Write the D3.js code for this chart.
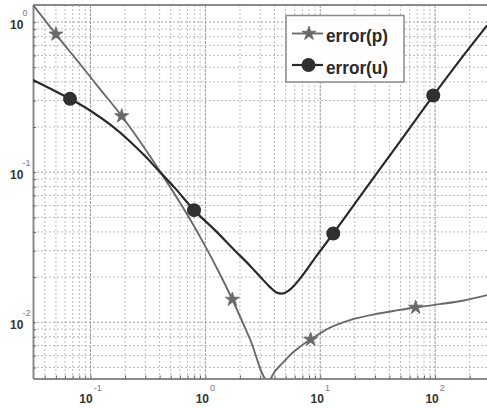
<!DOCTYPE html>
<html><head><meta charset="utf-8">
<script src="https://cdn.jsdelivr.net/npm/d3@7"></script>
<style>body{margin:0;background:#fff}</style>
</head><body>
<svg id="chart" width="487" height="409"></svg>
<script>
// ---- data ----
const seriesNames = ["error(p)", "error(u)"];
const pX = [0.0316, 0.0501, 0.0811, 0.1211, 0.187, 0.270, 0.387, 0.602, 0.898, 1.341, 1.717, 2.447, 3.511, 4.038, 4.741, 5.678, 6.665, 8.259, 12.16, 18.15, 28.78, 44.75, 67.72, 110.2, 181.9, 283];
const pY = [1.30, 0.829, 0.5256, 0.358, 0.2366, 0.1600, 0.1060, 0.0625, 0.0372, 0.02089, 0.01418, 0.00771, 0.00405, 0.00472, 0.00538, 0.00622, 0.00688, 0.00768, 0.00920, 0.01033, 0.01124, 0.01195, 0.01255, 0.01320, 0.01403, 0.01516];
const uX = [0.0316, 0.04446, 0.06637, 0.0991, 0.1480, 0.2209, 0.2984, 0.3872, 0.5444, 0.7966, 1.213, 1.811, 2.447, 3.112, 3.654, 4.120, 4.647, 5.240, 5.910, 6.665, 9.183, 12.99, 24.52, 49.45, 96.36, 164.5, 283];
const uY = [0.4111, 0.3607, 0.3081, 0.2577, 0.2079, 0.1602, 0.1280, 0.1033, 0.07830, 0.05587, 0.04111, 0.03000, 0.02383, 0.01953, 0.01714, 0.01587, 0.01551, 0.01612, 0.01753, 0.01953, 0.02736, 0.03907, 0.07653, 0.1599, 0.3240, 0.5587, 0.9489];
const pMarkX = [0.0501, 0.187, 1.717, 8.259, 67.72];
const pMarkY = [0.829, 0.2366, 0.01418, 0.00768, 0.01255];
const uMarkX = [0.06637, 0.7966, 12.99, 96.36];
const uMarkY = [0.3081, 0.05587, 0.03907, 0.3240];
const xTickValues = [0.1, 1, 10, 100];
const xTickExp = ["-1", "0", "1", "2"];
const yTickValues = [1, 0.1, 0.01];
const yTickExp = ["0", "-1", "-2"];
const xDomain = [0.0316, 283];
const yDomain = [0.00422, 1.30];

// ---- layout ----
const L = 33, R = 487, T = 5, B = 378.5;
const svg = d3.select("#chart");
const x = d3.scaleLog().domain(xDomain).range([L, R]);
const y = d3.scaleLog().domain(yDomain).range([B, T]);
const xt = x.ticks().filter(t => x(t) >= L && x(t) <= R);
const yt = y.ticks().filter(t => y(t) >= T && y(t) <= B);
const isMaj = (arr, t) => arr.some(v => Math.abs(Math.log10(v) - Math.log10(t)) < 1e-6);

svg.append("defs").append("clipPath").attr("id", "clip")
  .append("rect").attr("x", L).attr("y", T).attr("width", R - L).attr("height", B - T);

// grid
const grid = svg.append("g");
grid.selectAll(".gx").data(xt).enter().append("line")
  .attr("x1", d => x(d)).attr("x2", d => x(d)).attr("y1", T).attr("y2", B)
  .attr("stroke", d => isMaj(xTickValues, d) ? "#9a9a9a" : "#bdbdbd")
  .attr("stroke-width", 1).attr("stroke-dasharray", d => isMaj(xTickValues, d) ? "3,1" : "2,2");
grid.selectAll(".gy").data(yt).enter().append("line")
  .attr("y1", d => y(d)).attr("y2", d => y(d)).attr("x1", L).attr("x2", R)
  .attr("stroke", d => isMaj(yTickValues, d) ? "#a0a0a0" : "#bdbdbd")
  .attr("stroke-width", 1).attr("stroke-dasharray", "2,2");

// axes
const ax = svg.append("g").attr("transform", `translate(0,${B})`)
  .call(d3.axisBottom(x).tickValues(xt).tickFormat("").tickSizeInner(-3).tickSizeOuter(0));
const ay = svg.append("g").attr("transform", `translate(${L},0)`)
  .call(d3.axisLeft(y).tickValues(yt).tickFormat("").tickSizeInner(-3).tickSizeOuter(0));
[ax, ay].forEach(g => {
  g.select(".domain").attr("stroke", "#8a8a8a").attr("stroke-width", 2);
  g.selectAll(".tick line").attr("stroke", "#666").attr("stroke-width", 1);
});
svg.append("line").attr("x1", L).attr("x2", R).attr("y1", T).attr("y2", T)
  .attr("stroke", "#8a8a8a").attr("stroke-width", 2);

// tick labels
const fam = "'Liberation Sans Narrow','Liberation Sans',Arial,sans-serif";
xTickValues.forEach((v, i) => {
  const t = svg.append("text").attr("x", x(v)).attr("y", 402.5)
    .attr("text-anchor", "middle").attr("font-family", fam);
  t.append("tspan").text("10").attr("font-size", 12).attr("font-weight", "bold").attr("fill", "#333");
  t.append("tspan").text(xTickExp[i]).attr("font-size", 9).attr("dx", 1).attr("dy", -11.5).attr("fill", "#777");
});
yTickValues.forEach((v, i) => {
  svg.append("text").attr("x", 10).attr("y", y(v) + 6.8).attr("font-family", fam)
    .attr("font-size", 12).attr("font-weight", "bold").attr("fill", "#333").text("10");
  svg.append("text").attr("x", 22.5).attr("y", y(v) - 6.5).attr("font-family", fam)
    .attr("font-size", 9).attr("fill", "#777").text(yTickExp[i]);
});

// curves
const line = d3.line().x(d => x(d[0])).y(d => y(d[1])).curve(d3.curveMonotoneX);
const plot = svg.append("g").attr("clip-path", "url(#clip)");
const pColor = "#6a6a6a", uColor = "#2a2a2a";
plot.append("path").attr("d", line(pX.map((v, i) => [v, pY[i]])))
  .attr("fill", "none").attr("stroke", pColor).attr("stroke-width", 1.9);
plot.append("path").attr("d", line(uX.map((v, i) => [v, uY[i]])))
  .attr("fill", "none").attr("stroke", uColor).attr("stroke-width", 2.2);

const star = d3.symbol().type(d3.symbolStar).size(62);
plot.selectAll(".ps").data(pMarkX).enter().append("path")
  .attr("d", star).attr("transform", (d, i) => `translate(${x(d)},${y(pMarkY[i])})`)
  .attr("fill", pColor).attr("stroke", pColor).attr("stroke-width", 0.8);
plot.selectAll(".uc").data(uMarkX).enter().append("circle")
  .attr("cx", d => x(d)).attr("cy", (d, i) => y(uMarkY[i])).attr("r", 7)
  .attr("fill", "#303030");

// legend
const lg = svg.append("g");
lg.append("rect").attr("x", 286).attr("y", 15.5).attr("width", 118).attr("height", 66.5)
  .attr("fill", "#fff").attr("stroke", "#8a8a8a").attr("stroke-width", 1.5);
lg.append("line").attr("x1", 292).attr("x2", 323).attr("y1", 33.5).attr("y2", 33.5)
  .attr("stroke", pColor).attr("stroke-width", 1.9);
lg.append("path").attr("d", star).attr("transform", "translate(309,33.5)")
  .attr("fill", pColor).attr("stroke", pColor).attr("stroke-width", 0.8);
lg.append("line").attr("x1", 292).attr("x2", 323).attr("y1", 65).attr("y2", 65)
  .attr("stroke", uColor).attr("stroke-width", 2.2);
lg.append("circle").attr("cx", 308.5).attr("cy", 65).attr("r", 7).attr("fill", "#303030");
[[seriesNames[0], 41.8], [seriesNames[1], 73.5]].forEach(([s, yy]) => {
  lg.append("text").attr("x", 326).attr("y", yy).attr("font-family", "'Liberation Sans',Arial,sans-serif")
    .attr("font-size", 17.5).attr("font-weight", "bold").attr("fill", "#2a2a2a")
    .attr("textLength", 62).attr("lengthAdjust", "spacingAndGlyphs").text(s);
});
</script>
</body></html>
